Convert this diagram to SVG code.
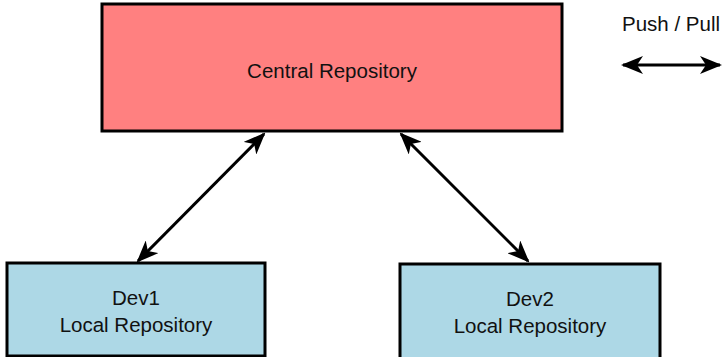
<svg xmlns="http://www.w3.org/2000/svg" width="724" height="357" viewBox="0 0 724 357">
  <style>
    .box { stroke: #000; stroke-width: 3; }
    .central { fill: #FF8080; }
    .local { fill: #ADD8E6; }
    .lbl { font-family: "Liberation Sans", Arial, sans-serif; font-size: 20.5px; fill: #111; text-anchor: middle; }
    .link { stroke: #000; stroke-width: 3; fill: none; marker-start: url(#head); marker-end: url(#head); }
  </style>
  <defs>
    <marker id="head" viewBox="0 0 22 18" refX="20" refY="9" markerWidth="22" markerHeight="18" markerUnits="userSpaceOnUse" orient="auto-start-reverse">
      <path d="M0,0 L22,9 L0,18 L6,9 Z" fill="#000"/>
    </marker>
  </defs>

  <g id="central">
    <rect class="box central" x="102" y="4" width="460" height="127"/>
    <text class="lbl" x="332" y="78">Central Repository</text>
  </g>

  <g id="dev1">
    <rect class="box local" x="7" y="263" width="258" height="93"/>
    <text class="lbl" x="136" y="305">Dev1</text>
    <text class="lbl" x="136" y="332">Local Repository</text>
  </g>

  <g id="dev2">
    <rect class="box local" x="400" y="264" width="260" height="96"/>
    <text class="lbl" x="530" y="306">Dev2</text>
    <text class="lbl" x="530" y="333">Local Repository</text>
  </g>

  <g id="legend">
    <text class="lbl" x="671" y="31">Push / Pull</text>
    <line class="link" x1="623" y1="65" x2="720" y2="65"/>
  </g>

  <g id="connectors">
    <line class="link" x1="264" y1="134" x2="138" y2="261"/>
    <line class="link" x1="401" y1="134" x2="528" y2="261"/>
  </g>
</svg>
